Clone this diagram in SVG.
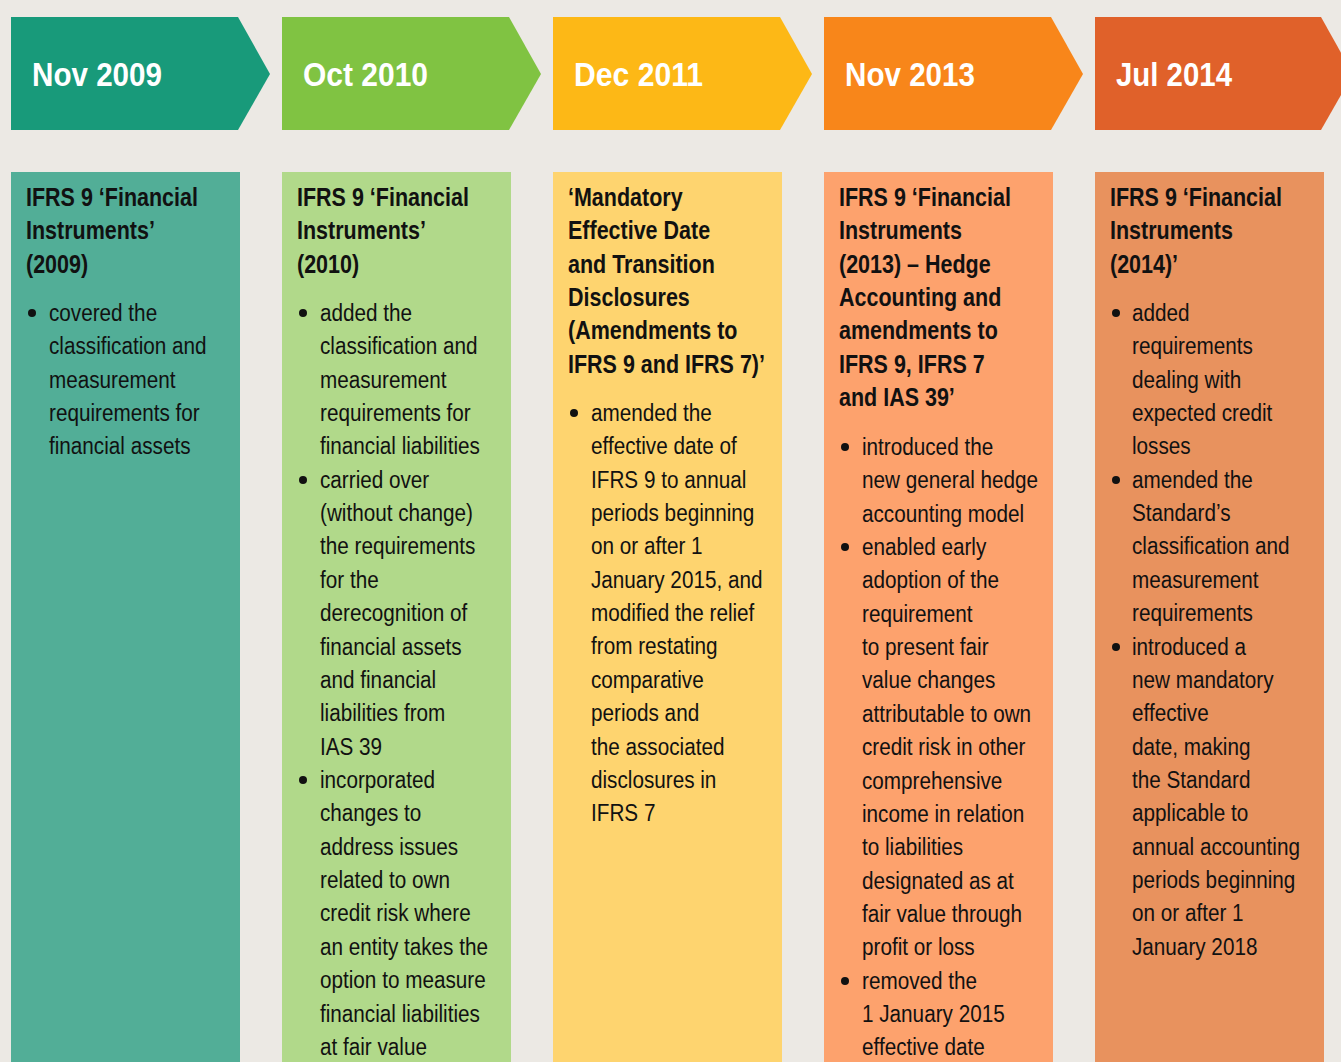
<svg xmlns="http://www.w3.org/2000/svg" width="1341" height="1062" viewBox="0 0 1341 1062">
<style>
.hd{font-family:"Liberation Sans",Arial,sans-serif;font-weight:bold;font-size:33px;fill:#ffffff}
.tt text{font-family:"Liberation Sans",Arial,sans-serif;font-weight:bold;font-size:25px;fill:#111111}
.bd text{font-family:"Liberation Sans",Arial,sans-serif;font-size:24.5px;fill:#111111}
.bl{fill:#111111}
</style>
<rect x="0" y="0" width="1341" height="1062" fill="#ece9e4"/>
<g id="arrows">
<polygon id="a1" points="11,17 238,17 270,74 238,130 11,130" fill="#189a7a"/>
<polygon id="a2" points="282,17 509,17 541,74 509,130 282,130" fill="#80c342"/>
<polygon id="a3" points="553,17 780,17 812,74 780,130 553,130" fill="#fdb816"/>
<polygon id="a4" points="824,17 1051,17 1083,74 1051,130 824,130" fill="#f8861a"/>
<polygon id="a5" points="1095,17 1321,17 1353,74 1321,130 1095,130" fill="#e0612a"/>
<text class="hd" x="32" y="86" textLength="130" lengthAdjust="spacingAndGlyphs">Nov 2009</text>
<text class="hd" x="303" y="86" textLength="125" lengthAdjust="spacingAndGlyphs">Oct 2010</text>
<text class="hd" x="574" y="86" textLength="129" lengthAdjust="spacingAndGlyphs">Dec 2011</text>
<text class="hd" x="845" y="86" textLength="130" lengthAdjust="spacingAndGlyphs">Nov 2013</text>
<text class="hd" x="1116" y="86" textLength="116" lengthAdjust="spacingAndGlyphs">Jul 2014</text>
</g>
<g id="col1">
<rect x="11" y="172" width="229" height="890" fill="#52ae97"/>
<g class="tt" transform="matrix(0.86 0 0 1 26 0)">
<text x="0" y="206">IFRS 9 ‘Financial</text>
<text x="0" y="239.4">Instruments’</text>
<text x="0" y="272.7">(2009)</text>
</g>
<circle class="bl" cx="32" cy="313" r="4"/>
<g class="bd" transform="matrix(0.845 0 0 1 49 0)">
<text x="0" y="321">covered the</text>
<text x="0" y="354.4">classification and</text>
<text x="0" y="387.7">measurement</text>
<text x="0" y="421.1">requirements for</text>
<text x="0" y="454.4">financial assets</text>
</g>
</g>
<g id="col2">
<rect x="282" y="172" width="229" height="890" fill="#b1d98a"/>
<g class="tt" transform="matrix(0.86 0 0 1 297 0)">
<text x="0" y="206">IFRS 9 ‘Financial</text>
<text x="0" y="239.4">Instruments’</text>
<text x="0" y="272.7">(2010)</text>
</g>
<circle class="bl" cx="303" cy="313" r="4"/>
<circle class="bl" cx="303" cy="480" r="4"/>
<circle class="bl" cx="303" cy="780" r="4"/>
<g class="bd" transform="matrix(0.845 0 0 1 320 0)">
<text x="0" y="321">added the</text>
<text x="0" y="354.4">classification and</text>
<text x="0" y="387.7">measurement</text>
<text x="0" y="421.1">requirements for</text>
<text x="0" y="454.4">financial liabilities</text>
<text x="0" y="487.8">carried over</text>
<text x="0" y="521.2">(without change)</text>
<text x="0" y="554.5">the requirements</text>
<text x="0" y="587.9">for the</text>
<text x="0" y="621.2">derecognition of</text>
<text x="0" y="654.6">financial assets</text>
<text x="0" y="688">and financial</text>
<text x="0" y="721.3">liabilities from</text>
<text x="0" y="754.7">IAS 39</text>
<text x="0" y="788">incorporated</text>
<text x="0" y="821.4">changes to</text>
<text x="0" y="854.8">address issues</text>
<text x="0" y="888.1">related to own</text>
<text x="0" y="921.5">credit risk where</text>
<text x="0" y="954.8">an entity takes the</text>
<text x="0" y="988.2">option to measure</text>
<text x="0" y="1021.6">financial liabilities</text>
<text x="0" y="1054.9">at fair value</text>
</g>
</g>
<g id="col3">
<rect x="553" y="172" width="229" height="890" fill="#fed46f"/>
<g class="tt" transform="matrix(0.86 0 0 1 568 0)">
<text x="0" y="206">‘Mandatory</text>
<text x="0" y="239.4">Effective Date</text>
<text x="0" y="272.7">and Transition</text>
<text x="0" y="306.1">Disclosures</text>
<text x="0" y="339.4">(Amendments to</text>
<text x="0" y="372.8">IFRS 9 and IFRS 7)’</text>
</g>
<circle class="bl" cx="574" cy="413" r="4"/>
<g class="bd" transform="matrix(0.845 0 0 1 591 0)">
<text x="0" y="421">amended the</text>
<text x="0" y="454.4">effective date of</text>
<text x="0" y="487.7">IFRS 9 to annual</text>
<text x="0" y="521.1">periods beginning</text>
<text x="0" y="554.4">on or after 1</text>
<text x="0" y="587.8">January 2015, and</text>
<text x="0" y="621.2">modified the relief</text>
<text x="0" y="654.5">from restating</text>
<text x="0" y="687.9">comparative</text>
<text x="0" y="721.2">periods and</text>
<text x="0" y="754.6">the associated</text>
<text x="0" y="788">disclosures in</text>
<text x="0" y="821.3">IFRS 7</text>
</g>
</g>
<g id="col4">
<rect x="824" y="172" width="229" height="890" fill="#fda26d"/>
<g class="tt" transform="matrix(0.86 0 0 1 839 0)">
<text x="0" y="206">IFRS 9 ‘Financial</text>
<text x="0" y="239.4">Instruments</text>
<text x="0" y="272.7">(2013) – Hedge</text>
<text x="0" y="306.1">Accounting and</text>
<text x="0" y="339.4">amendments to</text>
<text x="0" y="372.8">IFRS 9, IFRS 7</text>
<text x="0" y="406.2">and IAS 39’</text>
</g>
<circle class="bl" cx="845" cy="447" r="4"/>
<circle class="bl" cx="845" cy="547" r="4"/>
<circle class="bl" cx="845" cy="981" r="4"/>
<g class="bd" transform="matrix(0.845 0 0 1 862 0)">
<text x="0" y="455">introduced the</text>
<text x="0" y="488.4">new general hedge</text>
<text x="0" y="521.7">accounting model</text>
<text x="0" y="555.1">enabled early</text>
<text x="0" y="588.4">adoption of the</text>
<text x="0" y="621.8">requirement</text>
<text x="0" y="655.2">to present fair</text>
<text x="0" y="688.5">value changes</text>
<text x="0" y="721.9">attributable to own</text>
<text x="0" y="755.2">credit risk in other</text>
<text x="0" y="788.6">comprehensive</text>
<text x="0" y="822">income in relation</text>
<text x="0" y="855.3">to liabilities</text>
<text x="0" y="888.7">designated as at</text>
<text x="0" y="922">fair value through</text>
<text x="0" y="955.4">profit or loss</text>
<text x="0" y="988.8">removed the</text>
<text x="0" y="1022.1">1 January 2015</text>
<text x="0" y="1055.5">effective date</text>
</g>
</g>
<g id="col5">
<rect x="1095" y="172" width="229" height="890" fill="#e8925e"/>
<g class="tt" transform="matrix(0.86 0 0 1 1110 0)">
<text x="0" y="206">IFRS 9 ‘Financial</text>
<text x="0" y="239.4">Instruments</text>
<text x="0" y="272.7">(2014)’</text>
</g>
<circle class="bl" cx="1116" cy="313" r="4"/>
<circle class="bl" cx="1116" cy="480" r="4"/>
<circle class="bl" cx="1116" cy="647" r="4"/>
<g class="bd" transform="matrix(0.845 0 0 1 1132 0)">
<text x="0" y="321">added</text>
<text x="0" y="354.4">requirements</text>
<text x="0" y="387.7">dealing with</text>
<text x="0" y="421.1">expected credit</text>
<text x="0" y="454.4">losses</text>
<text x="0" y="487.8">amended the</text>
<text x="0" y="521.2">Standard’s</text>
<text x="0" y="554.5">classification and</text>
<text x="0" y="587.9">measurement</text>
<text x="0" y="621.2">requirements</text>
<text x="0" y="654.6">introduced a</text>
<text x="0" y="688">new mandatory</text>
<text x="0" y="721.3">effective</text>
<text x="0" y="754.7">date, making</text>
<text x="0" y="788">the Standard</text>
<text x="0" y="821.4">applicable to</text>
<text x="0" y="854.8">annual accounting</text>
<text x="0" y="888.1">periods beginning</text>
<text x="0" y="921.5">on or after 1</text>
<text x="0" y="954.8">January 2018</text>
</g>
</g>
</svg>
